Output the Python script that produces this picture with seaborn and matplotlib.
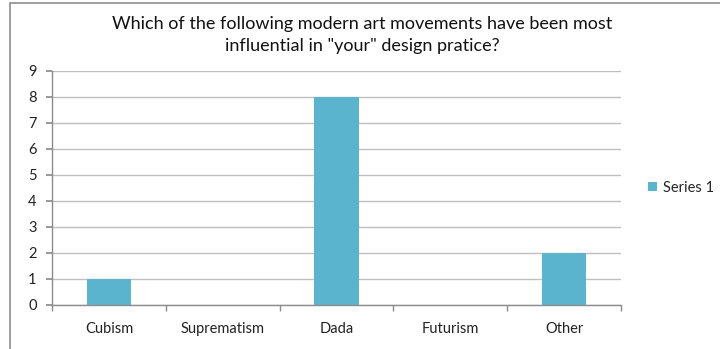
import matplotlib
matplotlib.use("Agg")
import matplotlib.pyplot as plt
from matplotlib.patches import Rectangle
import seaborn as sns
import pandas as pd

categories = ["Cubism", "Suprematism", "Dada", "Futurism", "Other"]
values = [1, 0, 8, 0, 2]
series_name = "Series 1"
title = 'Which of the following modern art movements have been most\ninfluential in "your" design pratice?'

sns.set_theme(style="white")
plt.rcParams['font.family'] = ['Lato', 'DejaVu Sans']

df = pd.DataFrame({"category": categories, "value": values, "series": series_name})

fig = plt.figure(figsize=(7.2, 3.49), dpi=100)
ax = fig.add_axes([52/720, 1-305/349, (621-52)/720, (305-71)/349])

sns.barplot(data=df, x="category", y="value", hue="series", palette=["#5AB4CE"],
            width=0.39, ax=ax, saturation=1, legend=True, linewidth=0)

ax.set_ylim(0, 9)
ax.set_xlim(-0.5, 4.5)
ax.set_yticks(range(0, 10))
ax.yaxis.grid(True, color="#BFBFBF", linewidth=1)
ax.set_axisbelow(True)
ax.set_xlabel("")
ax.set_ylabel("")
for s in ["top", "right"]:
    ax.spines[s].set_visible(False)
for s in ["left", "bottom"]:
    ax.spines[s].set_color("#8C8C8C")
    ax.spines[s].set_linewidth(1)
ax.tick_params(axis="y", left=True, length=4, color="#8C8C8C", labelsize=10.5, labelcolor="#222222", pad=7)
ax.tick_params(axis="x", bottom=False, labelsize=10.5, labelcolor="#222222", pad=6)
# category boundary ticks
ax.set_xticks([i - 0.5 for i in range(6)], minor=True)
ax.tick_params(axis="x", which="minor", bottom=True, length=4, color="#8C8C8C", direction="out")

leg = ax.legend(loc="center left", bbox_to_anchor=(1.025, 0.5), frameon=False,
                fontsize=10.5, handlelength=0.6, handleheight=0.6, handletextpad=0.4)

fig.text(362/720, 1-35/349, title, ha="center", va="center", fontsize=13,
         color="#111111", linespacing=1.45)

fig.patches.append(Rectangle((10/720, -0.1), 1.2, 1.1 - 3/349, transform=fig.transFigure,
                             fill=False, edgecolor="#8C8C8C", linewidth=1.2))

fig.savefig("out.png", dpi=100)
